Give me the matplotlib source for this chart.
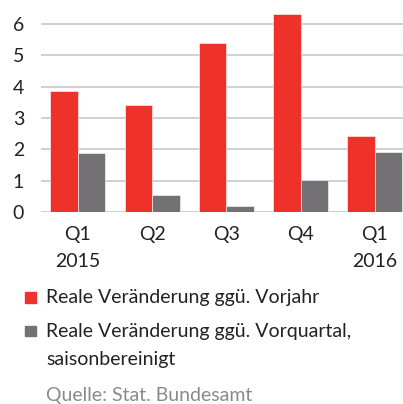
import matplotlib
matplotlib.use("Agg")
import matplotlib.pyplot as plt
from matplotlib.patches import Rectangle
import numpy as np

# data
quarters = ["Q1\n2015", "Q2", "Q3", "Q4", "Q1\n2016"]
vorjahr = [3.86, 3.42, 5.38, 6.31, 2.43]
vorquartal = [1.89, 0.56, 0.19, 1.01, 1.92]
legend_labels = ["Reale Veränderung ggü. Vorjahr",
                 "Reale Veränderung ggü. Vorquartal,\nsaisonbereinigt"]
source = "Quelle: Stat. Bundesamt"

RED = "#ee3229"
GREY = "#737173"
TXT = "#222222"

plt.rcParams["font.family"] = ["Lato", "DejaVu Sans"]

fig = plt.figure(figsize=(4.03, 4.04), dpi=100)
ax = fig.add_axes([0.101, 0.475, 0.921, 0.512])

x = np.arange(len(quarters))
w = 0.37
ax.bar(x - w / 2, vorjahr, w, color=RED, edgecolor="white", linewidth=0.4, zorder=3)
ax.bar(x + w / 2, vorquartal, w, color=GREY, edgecolor="white", linewidth=0.4, zorder=3)

ax.set_xlim(-0.5, 4.5)
ax.set_ylim(0, 6.59)
ax.set_yticks(range(7))
ax.set_xticks(x)
ax.set_xticklabels(quarters, linespacing=1.75)
ax.tick_params(axis="both", length=0, labelsize=14, colors=TXT)
ax.tick_params(axis="y", pad=12)
ax.tick_params(axis="x", pad=10)
ax.grid(axis="y", color="#c8c8c8", linewidth=1.2, zorder=0)
for s in ax.spines.values():
    s.set_visible(False)

# legend drawn by hand, squares + text
sq_w, sq_h = 10.5 / 403, 10.5 / 404
fig.add_artist(Rectangle((25 / 403, 1 - 302.5 / 404), sq_w, sq_h,
                         transform=fig.transFigure, color=RED))
fig.add_artist(Rectangle((25 / 403, 1 - 336 / 404), sq_w, sq_h,
                         transform=fig.transFigure, color=GREY))
fig.text(46 / 403, 1 - 298 / 404, legend_labels[0], fontsize=14, color=TXT, va="center")
fig.text(46 / 403, 1 - 345.5 / 404, legend_labels[1], fontsize=14, color=TXT, va="center",
         linespacing=1.8)
fig.text(46 / 403, 1 - 395 / 404, source, fontsize=14, color="#8a8a8a", va="center")

fig.savefig("out.png", dpi=100)
